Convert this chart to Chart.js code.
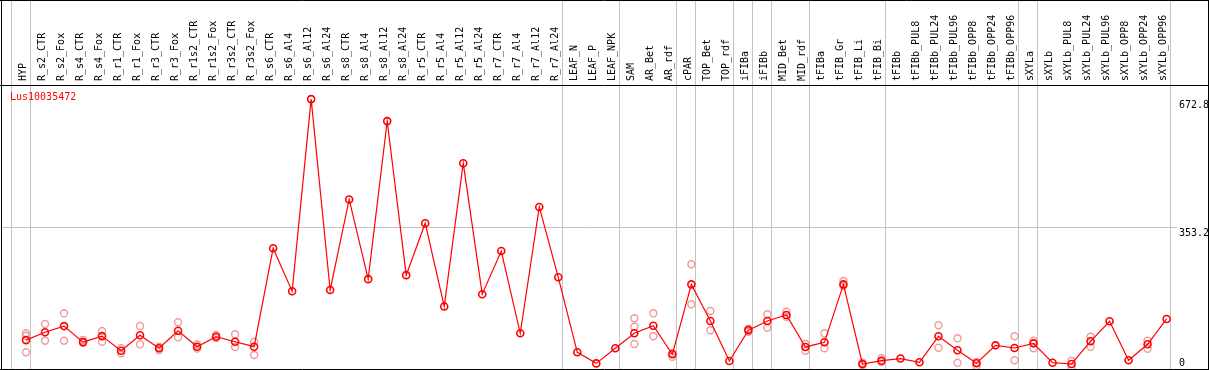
<!DOCTYPE html>
<html>
<head>
<meta charset="utf-8">
<style>
  html, body { margin: 0; padding: 0; background: #fff; }
  canvas { display: block; }
</style>
</head>
<body>
<canvas id="chart" width="1209" height="370"></canvas>
<script src="https://cdn.jsdelivr.net/npm/chart.js@4.4.1/dist/chart.umd.min.js"></script>
<script>
// --- data ---
const geneId = "Lus10035472";

const categories = [
  "HYP", "R_s2_CTR", "R_s2_Fox", "R_s4_CTR", "R_s4_Fox", "R_r1_CTR", "R_r1_Fox",
  "R_r3_CTR", "R_r3_Fox", "R_r1s2_CTR", "R_r1s2_Fox", "R_r3s2_CTR", "R_r3s2_Fox",
  "R_s6_CTR", "R_s6_Al4", "R_s6_Al12", "R_s6_Al24", "R_s8_CTR", "R_s8_Al4",
  "R_s8_Al12", "R_s8_Al24", "R_r5_CTR", "R_r5_Al4", "R_r5_Al12", "R_r5_Al24",
  "R_r7_CTR", "R_r7_Al4", "R_r7_Al12", "R_r7_Al24", "LEAF_N", "LEAF_P", "LEAF_NPK",
  "SAM", "AR_Bet", "AR_rdf", "cPAR", "TOP_Bet", "TOP_rdf", "iFIBa", "iFIBb",
  "MID_Bet", "MID_rdf", "tFIBa", "tFIB_Gr", "tFIB_Li", "tFIB_Bi", "tFIBb",
  "tFIBb_PUL8", "tFIBb_PUL24", "tFIBb_PUL96", "tFIBb_OPP8", "tFIBb_OPP24", "tFIBb_OPP96",
  "sXYLa", "sXYLb", "sXYLb_PUL8", "sXYLb_PUL24", "sXYLb_PUL96", "sXYLb_OPP8",
  "sXYLb_OPP24", "sXYLb_OPP96"
];

// mean expression per sample
const means = [
  72, 91.5, 107, 67, 82, 45.6, 84, 51.6, 95.5, 55.6, 80.5, 68, 55.6,
  301, 194, 672.8, 197, 422.6, 224, 618, 234, 363.5, 156, 513, 186.5,
  294, 89, 404, 228.6, 41.6, 14, 51.6,
  89, 108, 36.6, 211, 119.7, 20, 97, 119.7, 134.6, 55, 66.5, 211, 12.5, 20.7, 26,
  16.7, 81.5, 46.6, 14.2, 59, 52.4,
  64, 15.7, 12.5, 69, 119, 21.7, 61.6, 124.7
];

// individual replicates (light circles)
const replicates = [
  [89, 83, 41.6], [112.2, 70.6], [138.9, 70.6], [72.3, 65.6], [94.7, 68.1],
  [51.6, 39.1], [107.2, 61.6], [55.6, 47.4], [116.4, 79], [61, 51],
  [84.8, 77.3], [86.5, 54.8], [68.1, 34.9],
  [], [], [], [], [], [], [], [], [], [], [], [], [], [], [], [], [], [], [],
  [126.4, 105.5, 62.3], [138.9, 81.5], [39.1, 30.7], [261, 161.3], [144.6, 96.5],
  [], [100.5, 93], [136.4, 103], [142.8, 130.4], [62.3, 45.6], [89, 51.6],
  [219.4, 206.9], [15.7, 10], [26.7, 17.5], [],
  [], [108.9, 53.1], [76.5, 15.7], [7.5, 17.5], [], [81.5, 21.7],
  [70.6, 51.6], [], [20.7, 4.2], [80.5, 55.6], [], [], [70.6, 50.6], []
];

// index of last sample in each group (grey separators)
const groupEnds = [-1, 0, 28, 31, 34, 35, 37, 38, 39, 41, 45, 52, 53, 60];
const yTicks = [0, 353.2, 672.8];

// --- layout ---
const X_MIN = -1.2625, X_MAX = 60.547;
const MONO = "'DejaVu Sans Mono', monospace";

const meanPoints = means.map((v, i) => ({ x: i, y: v }));
const repPoints = [];
replicates.forEach((reps, i) => reps.forEach(v => repPoints.push({ x: i, y: v })));

// no extra padding from tick labels
function noPad(s) {
  s.paddingLeft = 0; s.paddingRight = 0; s.paddingTop = 0; s.paddingBottom = 0;
}

// frame lines + gene id
const framePlugin = {
  id: "frame",
  afterDraw(chart) {
    const c = chart.ctx, w = chart.width, top = chart.chartArea.top;
    c.save();
    c.strokeStyle = "#000";
    c.lineWidth = 1;
    c.beginPath();
    c.moveTo(0, 0.5); c.lineTo(w, 0.5);
    c.moveTo(0, top + 0.5); c.lineTo(w, top + 0.5);
    c.moveTo(0, 369.5); c.lineTo(w, 369.5);
    c.moveTo(1.5, 0); c.lineTo(1.5, 370);
    c.moveTo(w - 0.5, 0); c.lineTo(w - 0.5, 370);
    c.stroke();
    c.fillStyle = "#ff0000";
    c.font = "10px " + MONO;
    c.textBaseline = "middle";
    c.fillText(geneId, 10, 97.5);
    c.restore();
  }
};

const chart = new Chart(document.getElementById("chart"), {
  type: "scatter",
  data: {
    datasets: [
      {
        label: "mean",
        data: meanPoints,
        showLine: true,
        borderColor: "#ff0000",
        borderWidth: 1.2,
        pointRadius: 3.5,
        pointBorderWidth: 1.6,
        pointBorderColor: "#ff0000",
        pointBackgroundColor: "transparent",
        clip: 6
      },
      {
        label: "replicates",
        data: repPoints,
        showLine: false,
        pointRadius: 3.5,
        pointBorderWidth: 1.4,
        pointBorderColor: "#f09a9a",
        pointBackgroundColor: "transparent",
        clip: 6
      }
    ]
  },
  options: {
    responsive: false,
    animation: false,
    events: [],
    layout: { autoPadding: false, padding: { left: 2, right: 0, top: 0, bottom: 1 } },
    plugins: { legend: { display: false }, tooltip: { enabled: false } },
    scales: {
      x: {
        type: "linear",
        position: "top",
        weight: 1,
        min: X_MIN,
        max: X_MAX,
        afterBuildTicks: s => { s.ticks = categories.map((c, i) => ({ value: i })); },
        afterFit: s => { s.height = 85; noPad(s); },
        ticks: {
          autoSkip: false,
          minRotation: 90,
          maxRotation: 90,
          padding: 4,
          labelOffset: 9,
          color: "#000",
          font: { family: MONO, size: 10 },
          callback: v => categories[v]
        },
        grid: { display: false, drawTicks: false },
        border: { display: false }
      },
      xb: {
        type: "linear",
        position: "top",
        weight: 0,
        min: X_MIN,
        max: X_MAX,
        afterBuildTicks: s => { s.ticks = groupEnds.map(g => ({ value: g + 0.23 })); },
        afterFit: s => { s.height = 0; noPad(s); },
        ticks: { display: false },
        grid: { color: "#c4c4c4", lineWidth: 1, drawTicks: true, tickLength: 85 },
        border: { display: false }
      },
      y: {
        type: "linear",
        position: "right",
        min: 0,
        max: 708,
        afterBuildTicks: s => { s.ticks = yTicks.map(v => ({ value: v })); },
        afterFit: s => { s.width = 32; noPad(s); },
        ticks: {
          padding: 2,
          color: "#000",
          font: { family: MONO, size: 10 },
          callback: v => (v === 0 ? ["0", ""] : ["", String(v)])
        },
        grid: {
          drawTicks: false,
          color: c => (c.tick && c.tick.value === 353.2 ? "#c4c4c4" : "rgba(0,0,0,0)")
        },
        border: { display: false }
      }
    }
  },
  plugins: [framePlugin]
});
</script>
</body>
</html>
